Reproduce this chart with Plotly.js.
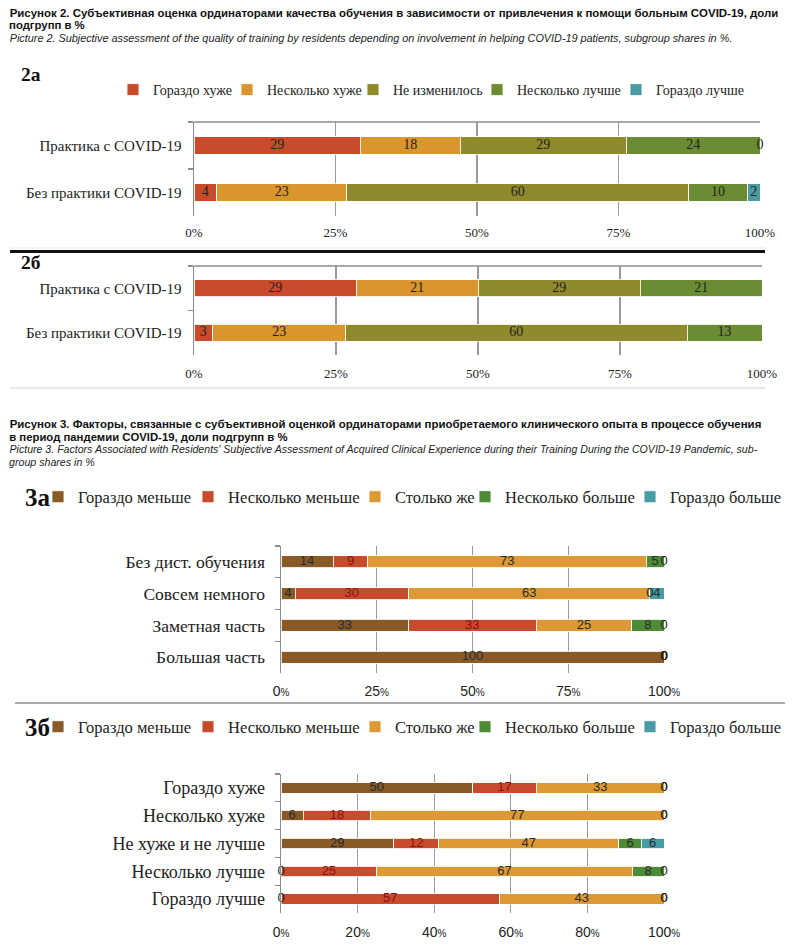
<!DOCTYPE html>
<html>
<head>
<meta charset="utf-8">
<script src="https://cdn.plot.ly/plotly-3.0.1.min.js"></script>
<style>html,body{margin:0;padding:0;background:#fff;overflow:hidden;}#chart{width:793px;height:951px;}</style>
</head>
<body>
<div id="chart"></div>
<script>
// ---------- DATA ----------
// Figure 2 categories and series
const cat2 = ['Практика с COVID-19', 'Без практики COVID-19'];
const ser2 = ['Гораздо хуже', 'Несколько хуже', 'Не изменилось', 'Несколько лучше', 'Гораздо лучше'];
// 2a (shares, %)
const a2_muchWorse   = [29.4, 4.0];
const a2_someWorse   = [17.6, 23.0];
const a2_same        = [29.4, 60.4];
const a2_someBetter  = [23.6, 10.4];
const a2_muchBetter  = [0, 2.2];
// 2b (shares, %)
const b2_muchWorse   = [28.6, 3.3];
const b2_someWorse   = [21.4, 23.4];
const b2_same        = [28.6, 60.1];
const b2_someBetter  = [21.4, 13.2];

// Figure 3 series
const ser3 = ['Гораздо меньше', 'Несколько меньше', 'Столько же', 'Несколько больше', 'Гораздо больше'];
// 3a
const cat3a = ['Без дист. обучения', 'Совсем немного', 'Заметная часть', 'Большая часть'];
const a3_muchLess = [13.6, 3.7, 33.3, 100];
const a3_someLess = [9.1, 29.6, 33.3, 0];
const a3_same     = [72.7, 63.0, 25.0, 0];
const a3_someMore = [4.6, 0, 8.4, 0];
const a3_muchMore = [0, 3.7, 0, 0];
// 3b
const cat3b = ['Гораздо хуже', 'Несколько хуже', 'Не хуже и не лучше', 'Несколько лучше', 'Гораздо лучше'];
const b3_muchLess = [50.0, 5.8, 29.4, 0, 0];
const b3_someLess = [16.7, 17.6, 11.8, 25.0, 57.1];
const b3_same     = [33.3, 76.6, 47.0, 66.7, 42.9];
const b3_someMore = [0, 0, 5.9, 8.3, 0];
const b3_muchMore = [0, 0, 5.9, 0, 0];

// tick labels
const ticks2v = [0, 25, 50, 75, 100];
const ticks2t = ['0%', '25%', '50%', '75%', '100%'];
const ticks3av = [0, 25, 50, 75, 100];
const ticks3bv = [0, 20, 40, 60, 80, 100];

// captions
const cap2 = [
  ['b', 'Рисунок 2. Субъективная оценка ординаторами качества обучения в зависимости от привлечения к помощи больным COVID-19, доли'],
  ['b', 'подгрупп в %'],
  ['i', 'Picture 2. Subjective assessment of the quality of training by residents depending on involvement in helping COVID-19 patients, subgroup shares in %.']
];
const cap3 = [
  ['b', 'Рисунок 3. Факторы, связанные с субъективной оценкой ординаторами приобретаемого клинического опыта в процессе обучения'],
  ['b', 'в период пандемии COVID-19, доли подгрупп в %'],
  ['i', 'Picture 3. Factors Associated with Residents\' Subjective Assessment of Acquired Clinical Experience during their Training During the COVID-19 Pandemic, sub-'],
  ['i', 'group shares in %']
];

// ---------- STYLE / LAYOUT ----------
const W = 793, H = 951;
const px = x => x / W;
const py = y => 1 - y / H;
const SERIF = "'Liberation Serif','Times New Roman',serif";
const SANS = "'Liberation Sans',Arial,sans-serif";
const col2 = ['#c94b2b', '#d9952e', '#8f8b2c', '#6c8c34', '#4b9ba3'];
const lab2 = ['#222', '#222', '#222', '#222', '#222'];
const col3 = ['#875a28', '#c94b2d', '#dd9a34', '#4e8b37', '#4a9ca4'];
const lab3 = ['#2a2a2a', '#8a1010', '#2a2a2a', '#2a2a2a', '#2a2a2a'];
const AX = '#8c8c8c';

const traces = [];
function addStack(cats, series, colors, labColors, font, xa, ya, legend, legW) {
  series.forEach((vals, k) => {
    const t = {
      type: 'bar', orientation: 'h', name: font.names[k], x: vals, y: cats,
      xaxis: xa, yaxis: ya, showlegend: !!legend,
      marker: {color: colors[k], line: {color: 'rgba(255,255,255,0.85)', width: 1}},
      hoverinfo: 'name+x'
    };
    if (legend) { t.legend = legend; t.legendwidth = legW[k]; }
    traces.push(t);
  });
  // value labels at segment centres; zero-size segments labelled at their stacked position
  const lx = [], ly = [], lt = [], lc = [];
  cats.forEach((c, i) => {
    let cum = 0;
    series.forEach((vals, k) => {
      const v = vals[i];
      if (v > 0) { lx.push(cum + v / 2); lt.push(String(Math.round(v))); lc.push(labColors[k]); }
      else { lx.push(cum); lt.push('0'); lc.push('#222'); }
      ly.push(c);
      cum += v;
    });
  });
  traces.push({
    type: 'scatter', mode: 'text', x: lx, y: ly, text: lt,
    textposition: 'middle center', xaxis: xa, yaxis: ya, showlegend: false,
    cliponaxis: false, hoverinfo: 'skip',
    textfont: {family: font.family, size: font.size, color: lc}
  });
}

addStack(cat2, [a2_muchWorse, a2_someWorse, a2_same, a2_someBetter, a2_muchBetter], col2, lab2,
  {family: SERIF, size: 14, names: ser2}, 'x', 'y', 'legend', [69, 81, 79, 94, 96]);
addStack(cat2, [b2_muchWorse, b2_someWorse, b2_same, b2_someBetter], col2, lab2,
  {family: SERIF, size: 14, names: ser2}, 'x2', 'y2', null, null);
addStack(cat3a, [a3_muchLess, a3_someLess, a3_same, a3_someMore, a3_muchMore], col3, lab3,
  {family: SANS, size: 13, names: ser3}, 'x3', 'y3', 'legend2', [105, 122, 65, 120, 118]);
addStack(cat3b, [b3_muchLess, b3_someLess, b3_same, b3_someMore, b3_muchMore], col3, lab3,
  {family: SANS, size: 13, names: ser3}, 'x4', 'y4', 'legend3', [105, 122, 65, 120, 118]);

function xAxis(d0, d1, anchor, tv, tt, font, standoff) {
  return {domain: [px(d0), px(d1)], range: [0, 100], anchor: anchor, fixedrange: true,
    showgrid: true, gridcolor: '#9a9a9a', gridwidth: 1.3, zeroline: false, showline: false,
    tickmode: 'array', tickvals: tv, ticktext: tt, ticks: '', tickfont: font,
    ticklabelstandoff: standoff, automargin: false};
}
function yAxis(top, bottom, anchor, font, standoff) {
  return {domain: [py(bottom), py(top)], type: 'category', autorange: 'reversed', anchor: anchor,
    fixedrange: true, showgrid: false, zeroline: false, showline: true, linecolor: AX, linewidth: 1.5,
    ticks: 'outside', tickson: 'boundaries', ticklen: 5, tickcolor: AX, tickwidth: 1.3,
    tickfont: font, ticklabelstandoff: standoff, automargin: false};
}
const pct = v => v + '<span style="font-size:10px">%</span>';
const serifTick = {family: SERIF, size: 13, color: '#222'};
const sansTick = {family: SANS, size: 14, color: '#222'};

// caption annotations: y position and target right end (layout)
const capPos = [[12.5, 778], [25.2, 84], [38.5, 732], [423.8, 761], [436.6, 287], [449.4, 757], [462.2, 94]];
const capAll = cap2.concat(cap3);
const capAnn = capAll.map((c, i) => ({
  text: c[0] === 'b' ? '<b>' + c[1] + '</b>' : '<i>' + c[1] + '</i>',
  x: px(8), y: py(capPos[i][0]), xref: 'paper', yref: 'paper', xanchor: 'left', yanchor: 'middle',
  showarrow: false, borderpad: 0,
  font: {family: SANS, size: 11, color: c[0] === 'b' ? '#111' : '#222'}
}));
const panelAnn = [
  {text: '<b>2а</b>', x: px(19), y: py(75), font: {family: SERIF, size: 19.5, color: '#111'}},
  {text: '<b>2б</b>', x: px(19), y: py(262), font: {family: SERIF, size: 19.5, color: '#111'}},
  {text: '<b>3а</b>', x: px(23), y: py(497), font: {family: SERIF, size: 25, color: '#111'}},
  {text: '<b>3б</b>', x: px(23), y: py(727), font: {family: SERIF, size: 25, color: '#111'}}
].map(a => Object.assign({xref: 'paper', yref: 'paper', xanchor: 'left', yanchor: 'middle', showarrow: false}, a));

const legBase = {orientation: 'h', xanchor: 'left', yanchor: 'middle', bgcolor: 'rgba(0,0,0,0)',
  traceorder: 'normal', borderwidth: 0};

const layout = {
  width: W, height: H, margin: {l: 0, r: 0, t: 0, b: 0, autoexpand: false},
  paper_bgcolor: '#fff', plot_bgcolor: 'rgba(0,0,0,0)',
  barmode: 'stack', bargap: 0.62,
  xaxis: xAxis(194, 760, 'y', ticks2v, ticks2t, serifTick, 7),
  yaxis: yAxis(122, 216, 'x', {family: SERIF, size: 15, color: '#222'}, 8),
  xaxis2: xAxis(194, 762, 'y2', ticks2v, ticks2t, serifTick, 9),
  yaxis2: yAxis(266, 355, 'x2', {family: SERIF, size: 15, color: '#222'}, 8),
  xaxis3: xAxis(281, 664, 'y3', ticks3av, ticks3av.map(pct), sansTick, 8),
  yaxis3: yAxis(546, 673, 'x3', {family: SERIF, size: 17.5, color: '#222'}, 11),
  xaxis4: xAxis(281, 664, 'y4', ticks3bv, ticks3bv.map(pct), sansTick, 9),
  yaxis4: yAxis(774, 913, 'x4', {family: SERIF, size: 18, color: '#222'}, 11),
  legend: Object.assign({x: px(113), y: py(90), font: {family: SERIF, size: 14, color: '#222'}}, legBase),
  legend2: Object.assign({x: px(38), y: py(497), font: {family: SERIF, size: 16.5, color: '#222'}}, legBase),
  legend3: Object.assign({x: px(38), y: py(727), font: {family: SERIF, size: 16.5, color: '#222'}}, legBase),
  shapes: [
    {type: 'line', xref: 'x', yref: 'y domain', x0: 0, x1: 100, y0: 1, y1: 1, line: {color: AX, width: 1.5}},
    {type: 'line', xref: 'x2', yref: 'y2 domain', x0: 0, x1: 100, y0: 1, y1: 1, line: {color: AX, width: 1.5}},
    {type: 'line', xref: 'paper', yref: 'paper', x0: px(10), x1: px(765), y0: py(251.5), y1: py(251.5), line: {color: '#111', width: 3}},
    {type: 'line', xref: 'paper', yref: 'paper', x0: px(10), x1: px(765), y0: py(248), y1: py(248), line: {color: '#e6e6e6', width: 1}},
    {type: 'line', xref: 'paper', yref: 'paper', x0: px(10), x1: px(765), y0: py(388), y1: py(388), line: {color: '#e0e0e0', width: 1.5}},
    {type: 'line', xref: 'paper', yref: 'paper', x0: px(15), x1: px(785), y0: py(703), y1: py(703), line: {color: '#8c8c8c', width: 1.5}}
  ],
  annotations: capAnn.concat(panelAnn)
};

Plotly.newPlot('chart', traces, layout, {staticPlot: true, displayModeBar: false}).then(() => {
  // fit caption lines to the original line lengths (the original uses a condensed typeface)
  document.querySelectorAll('#chart g.annotation').forEach(g => {
    const idx = +g.getAttribute('data-index');
    if (!(idx < capPos.length)) return;
    const t = g.querySelector('text.annotation-text');
    if (!t) return;
    const bb = t.getBBox();
    const s = Math.min(1.12, (capPos[idx][1] - 8) / bb.width);
    const prev = t.getAttribute('transform') || '';
    t.setAttribute('transform', prev + ` translate(${bb.x} 0) scale(${s} 1) translate(${-bb.x} 0)`);
  });
});
</script>
</body>
</html>
